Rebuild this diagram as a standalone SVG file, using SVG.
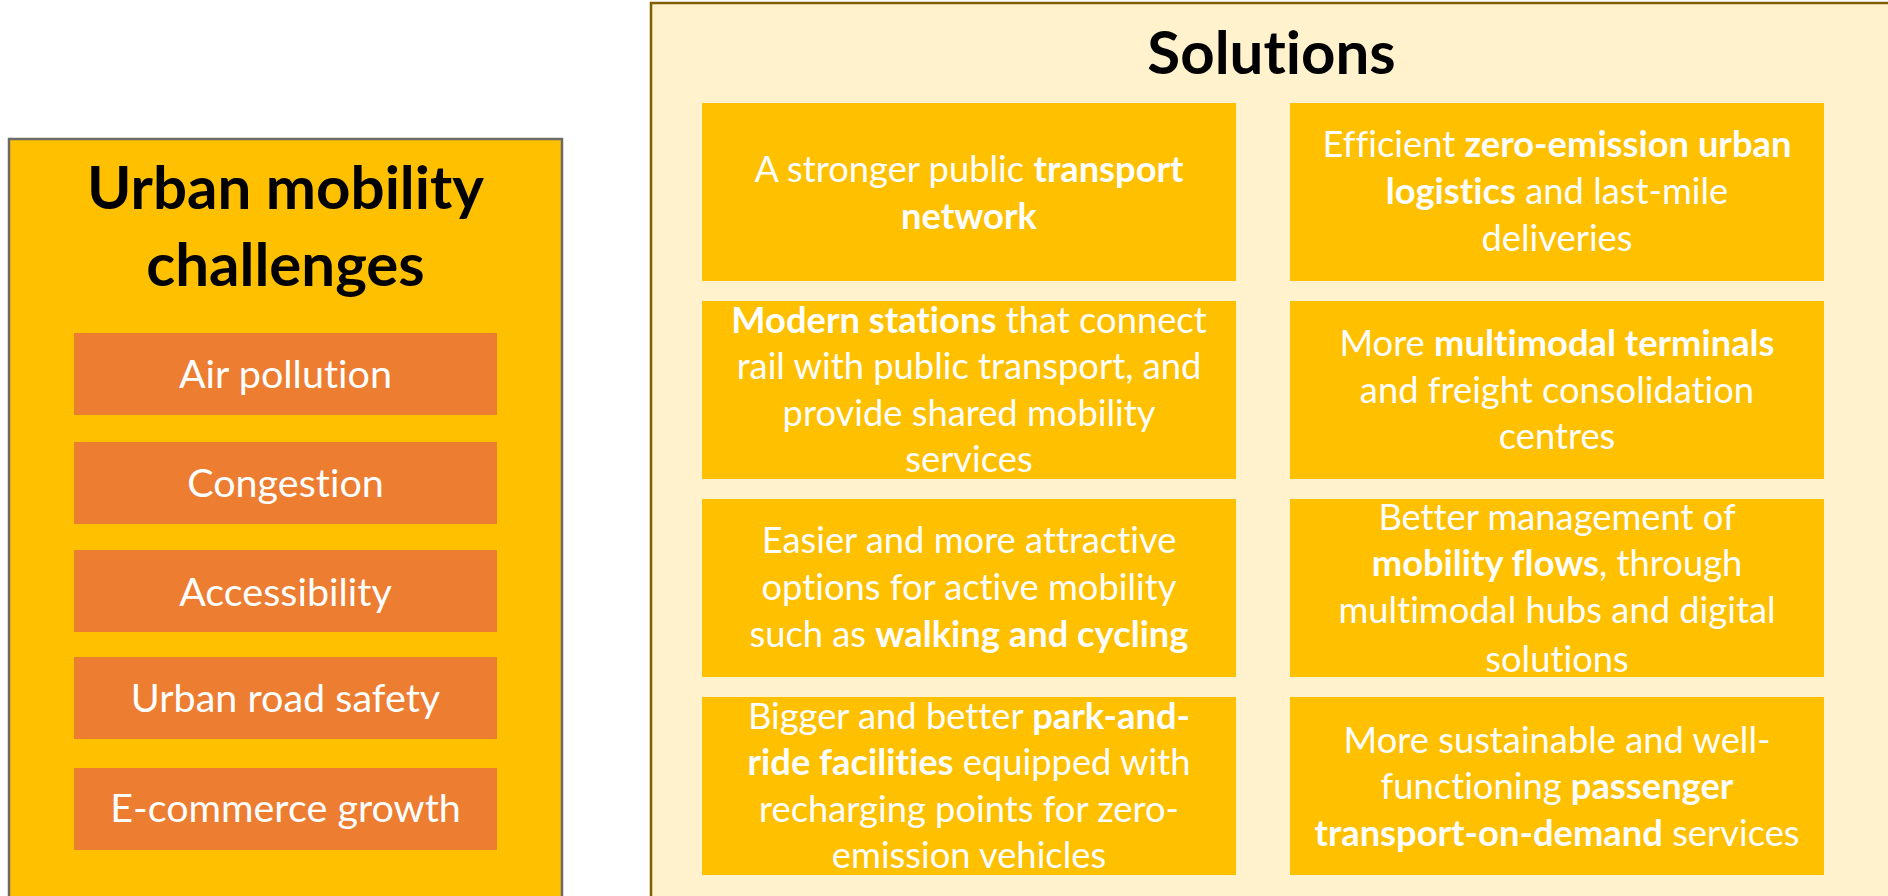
<svg xmlns="http://www.w3.org/2000/svg" width="1888" height="896" viewBox="0 0 1888 896">
  <style>
    text { font-variant-ligatures: none; }
    .title { font-family: Lato, "Liberation Sans", sans-serif; font-weight: 700; fill: #000000; text-anchor: middle; }
    .chal-box { fill: #ED7D31; }
    .chal-text { font-family: Lato, "Liberation Sans", sans-serif; font-size: 39.5px; fill: #FFFFFF; text-anchor: middle; }
    .sol-box { fill: #FFC000; }
    .sol-text { font-family: Lato, "Liberation Sans", sans-serif; font-size: 36.3px; fill: #FFFFFF; text-anchor: middle; }
    .b { font-weight: 700; }
  </style>
  <rect width="1888" height="896" fill="#FFFFFF"/>

  <!-- Left panel: challenges -->
  <g id="challenges">
    <rect x="9" y="139" width="553" height="800" fill="#FFC000" stroke="#6B6B6B" stroke-width="2.5"/>
    <text class="title" x="285.5" y="209" font-size="60">Urban mobility</text>
    <text class="title" x="285.5" y="286" font-size="60">challenges</text>
  </g>
  <g id="air-pollution">
    <rect class="chal-box" x="74" y="333" width="423" height="82"/>
    <text class="chal-text" x="285.5" y="388">Air pollution</text>
  </g>
  <g id="congestion">
    <rect class="chal-box" x="74" y="442" width="423" height="82"/>
    <text class="chal-text" x="285.5" y="497">Congestion</text>
  </g>
  <g id="accessibility">
    <rect class="chal-box" x="74" y="550" width="423" height="82"/>
    <text class="chal-text" x="285.5" y="606">Accessibility</text>
  </g>
  <g id="road-safety">
    <rect class="chal-box" x="74" y="657" width="423" height="82"/>
    <text class="chal-text" x="285.5" y="712">Urban road safety</text>
  </g>
  <g id="e-commerce">
    <rect class="chal-box" x="74" y="768" width="423" height="82"/>
    <text class="chal-text" x="285.5" y="822">E-commerce growth</text>
  </g>

  <!-- Right panel: solutions -->
  <g id="solutions">
    <rect x="651" y="3" width="1300" height="1000" fill="#FFF2CC" stroke="#7F6000" stroke-width="2.5"/>
    <text class="title" x="1271.5" y="74" font-size="60">Solutions</text>
  </g>

  <g id="sol-public-transport">
    <rect class="sol-box" x="702" y="103" width="534" height="178"/>
    <text class="sol-text" x="969" y="182">A stronger public <tspan class="b">transport</tspan></text>
    <text class="sol-text" x="969" y="228.5"><tspan class="b">network</tspan></text>
  </g>
  <g id="sol-logistics">
    <rect class="sol-box" x="1290" y="103" width="534" height="178"/>
    <text class="sol-text" x="1557" y="157">Efficient <tspan class="b">zero-emission urban</tspan></text>
    <text class="sol-text" x="1557" y="204"><tspan class="b">logistics</tspan> and last-mile</text>
    <text class="sol-text" x="1557" y="250.5">deliveries</text>
  </g>
  <g id="sol-stations">
    <rect class="sol-box" x="702" y="301" width="534" height="178"/>
    <text class="sol-text" x="969" y="332.5"><tspan class="b">Modern stations</tspan> that connect</text>
    <text class="sol-text" x="969" y="379">rail with public transport, and</text>
    <text class="sol-text" x="969" y="425.5">provide shared mobility</text>
    <text class="sol-text" x="969" y="472">services</text>
  </g>
  <g id="sol-terminals">
    <rect class="sol-box" x="1290" y="301" width="534" height="178"/>
    <text class="sol-text" x="1557" y="356">More <tspan class="b">multimodal terminals</tspan></text>
    <text class="sol-text" x="1557" y="402.5">and freight consolidation</text>
    <text class="sol-text" x="1557" y="449">centres</text>
  </g>
  <g id="sol-active-mobility">
    <rect class="sol-box" x="702" y="499" width="534" height="178"/>
    <text class="sol-text" x="969" y="553">Easier and more attractive</text>
    <text class="sol-text" x="969" y="600">options for active mobility</text>
    <text class="sol-text" x="969" y="646.5">such as <tspan class="b">walking and cycling</tspan></text>
  </g>
  <g id="sol-flows">
    <rect class="sol-box" x="1290" y="499" width="534" height="178"/>
    <text class="sol-text" x="1557" y="529.5">Better management of</text>
    <text class="sol-text" x="1557" y="576"><tspan class="b">mobility flows</tspan>, through</text>
    <text class="sol-text" x="1557" y="623">multimodal hubs and digital</text>
    <text class="sol-text" x="1557" y="671.5">solutions</text>
  </g>
  <g id="sol-park-and-ride">
    <rect class="sol-box" x="702" y="697" width="534" height="178"/>
    <text class="sol-text" x="969" y="728.5">Bigger and better <tspan class="b">park-and-</tspan></text>
    <text class="sol-text" x="969" y="775"><tspan class="b">ride facilities</tspan> equipped with</text>
    <text class="sol-text" x="969" y="821.5">recharging points for zero-</text>
    <text class="sol-text" x="969" y="868">emission vehicles</text>
  </g>
  <g id="sol-on-demand">
    <rect class="sol-box" x="1290" y="697" width="534" height="178"/>
    <text class="sol-text" x="1557" y="752.5">More sustainable and well-</text>
    <text class="sol-text" x="1557" y="799">functioning <tspan class="b">passenger</tspan></text>
    <text class="sol-text" x="1557" y="845.5"><tspan class="b">transport-on-demand</tspan> services</text>
  </g>

  <!-- no connectors in this layout -->
  <g id="connectors"/>
</svg>
